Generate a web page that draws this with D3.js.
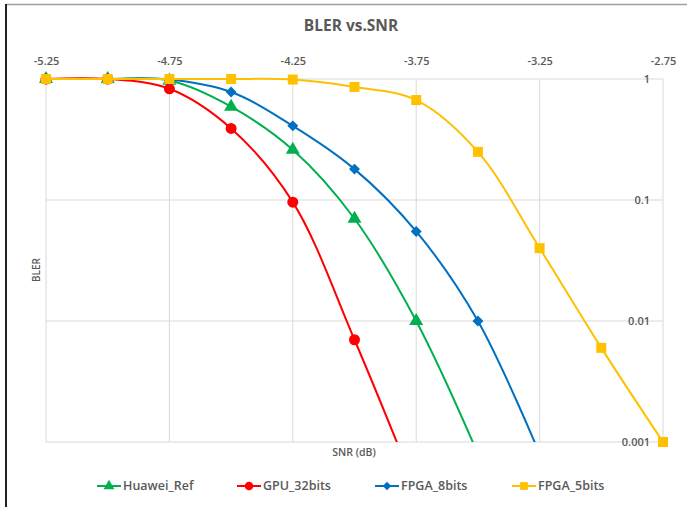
<!DOCTYPE html>
<html>
<head>
<meta charset="utf-8">
<script src="https://cdn.jsdelivr.net/npm/d3@7.9.0/dist/d3.min.js"></script>
<style>
  body { margin: 0; background: #fff; }
  svg text { font-family: 'Open Sans', sans-serif; fill: #595959; }
</style>
</head>
<body>
<svg id="chart" width="687" height="507"></svg>
<script>
// SNR points (dB)
const snr = [-5.25, -5, -4.75, -4.5, -4.25, -4, -3.75, -3.5, -3.25, -3, -2.75];

// BLER per series, null where there is no point
const huaweiRef = [1, 1, 0.97, 0.59, 0.26, 0.07, 0.01, 0.0008, null, null, null];
const gpu32 = [1, 1, 0.83, 0.39, 0.096, 0.007, 0.0004, null, null, null, null];
const fpga8 = [1, 1, 0.99, 0.78, 0.41, 0.18, 0.055, 0.01, 0.0008, null, null];
const fpga5 = [1, 1, 1, 1, 0.99, 0.86, 0.67, 0.25, 0.04, 0.006, 0.001];

const xTicks = [-5.25, -4.75, -4.25, -3.75, -3.25, -2.75];
const yTicks = [1, 0.1, 0.01, 0.001];

const series = [
  { name: 'Huawei_Ref', values: huaweiRef, color: '#00B050', symbol: d3.symbolTriangle, size: 85, rot: 0 },
  { name: 'GPU_32bits', values: gpu32, color: '#FF0000', symbol: d3.symbolCircle, size: 95, rot: 0 },
  { name: 'FPGA_8bits', values: fpga8, color: '#0070C0', symbol: d3.symbolSquare, size: 60, rot: 45 },
  { name: 'FPGA_5bits', values: fpga5, color: '#FFC000', symbol: d3.symbolSquare, size: 100, rot: 0 }
];

const svg = d3.select('#chart');
const plot = { left: 46, right: 663, top: 79, bottom: 442 };

const x = d3.scaleLinear().domain([-5.25, -2.75]).range([plot.left, plot.right]);
const y = d3.scaleLog().domain([0.001, 1]).range([plot.bottom, plot.top]);

// outer frame
svg.append('line').attr('x1', 6).attr('x2', 687).attr('y1', 4.5).attr('y2', 4.5)
  .attr('stroke', '#a0a0a0').attr('stroke-width', 1.5);
svg.append('line').attr('x1', 6).attr('x2', 6).attr('y1', 4).attr('y2', 507)
  .attr('stroke', '#222').attr('stroke-width', 2);

svg.append('text').attr('x', 351).attr('y', 31).attr('text-anchor', 'middle')
  .style('font-size', '15.5px').style('font-weight', 700).text('BLER vs.SNR');

// gridlines
const grid = svg.append('g').attr('stroke', '#d9d9d9').attr('stroke-width', 1);
xTicks.forEach(t => {
  grid.append('line').attr('x1', x(t)).attr('x2', x(t)).attr('y1', plot.top).attr('y2', plot.bottom);
});
yTicks.forEach(t => {
  grid.append('line').attr('x1', plot.left).attr('x2', plot.right).attr('y1', y(t)).attr('y2', y(t));
});

// axes (labels only, Excel style)
const xAxis = svg.append('g').attr('transform', `translate(0,${plot.top - 11})`)
  .call(d3.axisTop(x).tickValues(xTicks).tickSize(0).tickFormat(d => d.toFixed(2)));
xAxis.select('.domain').remove();
xAxis.selectAll('text').style('font-size', '11px').style('font-weight', 600).attr('fill', '#595959');

const yAxis = svg.append('g').attr('transform', `translate(${plot.right - 10},0)`)
  .call(d3.axisLeft(y).tickValues(yTicks).tickSize(0).tickFormat(d => String(d)));
yAxis.select('.domain').remove();
yAxis.selectAll('text').style('font-size', '11px').style('font-weight', 600).attr('fill', '#595959');

svg.append('text').attr('transform', 'translate(40,270) rotate(-90)').attr('text-anchor', 'middle')
  .style('font-size', '10px').style('font-weight', 600).text('BLER');
svg.append('text').attr('x', 354).attr('y', 456).attr('text-anchor', 'middle')
  .style('font-size', '10.5px').style('font-weight', 600).text('SNR (dB)');

// series
svg.append('clipPath').attr('id', 'clip').append('rect')
  .attr('x', plot.left - 5).attr('y', plot.top - 5)
  .attr('width', plot.right - plot.left + 10).attr('height', plot.bottom - plot.top + 5);

const line = d3.line()
  .defined(d => d.v !== null)
  .x(d => x(d.s)).y(d => y(d.v))
  .curve(d3.curveCatmullRom.alpha(0.5));

series.forEach(s => {
  const pts = snr.map((v, i) => ({ s: v, v: s.values[i] })).filter(d => d.v !== null);
  svg.append('path').datum(pts)
    .attr('clip-path', 'url(#clip)')
    .attr('fill', 'none').attr('stroke', s.color).attr('stroke-width', 2)
    .attr('d', line);
  svg.append('g').selectAll('path')
    .data(pts.filter(d => d.v >= 0.001))
    .join('path')
    .attr('transform', d => `translate(${x(d.s)},${y(d.v)}) rotate(${s.rot})`)
    .attr('d', d3.symbol().type(s.symbol).size(s.size))
    .attr('fill', s.color);
});

// legend
const legendX = [97, 237, 375, 512];
const legend = svg.append('g');
series.forEach((s, i) => {
  const g = legend.append('g').attr('transform', `translate(${legendX[i]},486)`);
  g.append('line').attr('x1', 0).attr('x2', 24).attr('stroke', s.color).attr('stroke-width', 2);
  g.append('path').attr('transform', `translate(12,0) rotate(${s.rot})`)
    .attr('d', d3.symbol().type(s.symbol).size(s.size * 0.6)).attr('fill', s.color);
  g.append('text').attr('x', 26).attr('dy', '0.35em')
    .style('font-size', '12.5px').style('font-weight', 600).text(s.name);
});
</script>
</body>
</html>
